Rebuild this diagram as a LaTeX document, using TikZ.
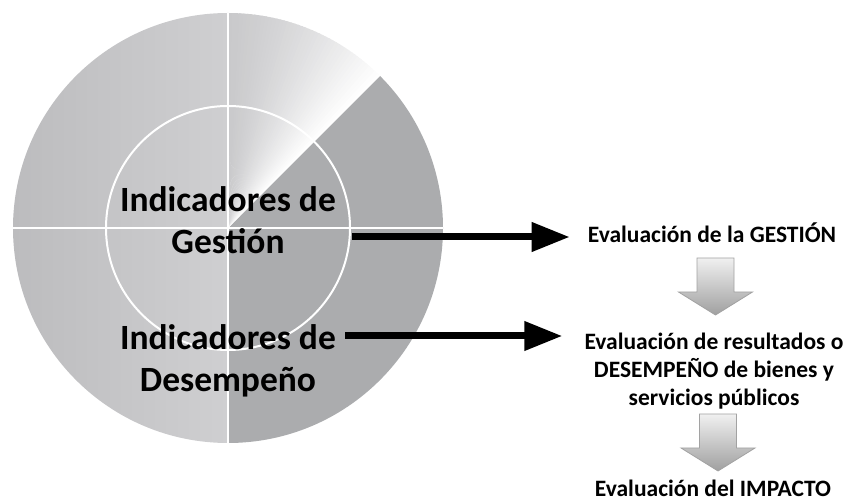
\documentclass[tikz,border=0pt]{standalone}
\usepackage{fontspec}
\setmainfont{Carlito}
\usetikzlibrary{arrows.meta,calc}
\definecolor{lgA}{HTML}{BCBCBE}
\definecolor{lgB}{HTML}{CFCFD1}
\definecolor{rgray}{HTML}{ABACAE}
\definecolor{wgray}{HTML}{C9C9CB}
\definecolor{blkA}{HTML}{F0F0F0}
\definecolor{blkB}{HTML}{A0A0A0}
\definecolor{blkD}{HTML}{A2A2A2}
\newcommand\grayblockarrow[3]{% center x, top y, tip y
  \shade[top color=blkA, bottom color=blkB, draw=blkD, line width=0.8pt]
    (#1-18.5,#2) -- (#1+18.5,#2) -- (#1+18.5,#2-34) -- (#1+37,#2-34)
    -- (#1,#3) -- (#1-37,#2-34) -- (#1-18.5,#2-34) -- cycle;}
\tikzset{
  bigtext/.style={inner sep=0pt, align=center, font=\fontsize{35.5}{42}\selectfont\bfseries},
  smalltext/.style={inner sep=0pt, align=center, font=\fontsize{23.5}{28}\selectfont\bfseries},
  blackarrow/.style={line width=7pt, -{Triangle[length=38pt,width=28pt]}},
  divider/.style={white, line width=2.5pt}
}
\begin{document}
\begin{tikzpicture}[x=1pt,y=1pt]
\useasboundingbox (0,0) rectangle (848,503);
\coordinate (C) at (228,275);
% left half
\shade[left color=lgA, right color=lgB] (C) -- ++(90:215) arc[start angle=90,end angle=270,radius=215] -- cycle;
% right part
\fill[rgray] (C) -- ++(-90:215) arc[start angle=-90,end angle=45,radius=215] -- cycle;
% light wedge with angular gradient
\foreach \i in {0,...,44}{
  \pgfmathsetmacro\a{90-\i}
  \pgfmathsetmacro\b{max(\a-1.4,45)}
  \pgfmathsetmacro\p{100*((\i+0.5)/45)^1.3}
  \fill[white!\p!wgray] (C) -- ++(\a:215) arc[start angle=\a,end angle=\b,radius=215] -- cycle;
}
% white dividers
\draw[divider] ($(C)+(0,215)$) -- ($(C)+(0,-215)$);
\draw[divider] ($(C)+(-215,0)$) -- ($(C)+(215,0)$);
\draw[white, line width=2pt] (C) circle[radius=122];
% texts
\node[bigtext] (gest) at (228,283) {Indicadores de\\Gestión};
\node[bigtext] (dese) at (228,142.5) {Indicadores de\\Desempeño};
\node[smalltext, anchor=base] (evalG) at (712,260) {Evaluación de la GESTIÓN};
\node[smalltext] (evalD) at (714,131.5) {Evaluación de resultados o\\DESEMPEÑO de bienes y\\servicios públicos};
\node[smalltext, anchor=base] (evalI) at (713,6) {Evaluación del IMPACTO};
% black arrows
\coordinate (gstart) at (352,266);
\coordinate (dstart) at (345,167);
\draw[blackarrow, shorten >=18pt] (gstart) -- (gstart -| evalG.west);
\draw[blackarrow, shorten >=22pt] (dstart) -- (dstart -| evalD.west);
% gray block arrows
\grayblockarrow{715.5}{245}{188}
\grayblockarrow{718}{89}{32}
\end{tikzpicture}
\end{document}
